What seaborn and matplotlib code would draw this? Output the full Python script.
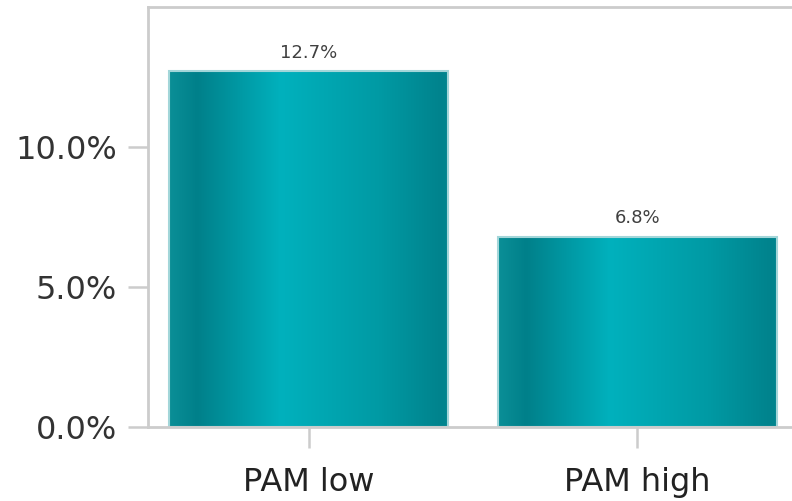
import numpy as np
import pandas as pd
import matplotlib
matplotlib.use("Agg")
import matplotlib.pyplot as plt
import seaborn as sns
from matplotlib.colors import LinearSegmentedColormap
from matplotlib.ticker import FuncFormatter

groups = ["PAM low", "PAM high"]
rates = [12.7, 6.8]

df = pd.DataFrame({"group": groups, "rate": rates})

sns.set_style("white")
plt.rcParams["font.family"] = ["DejaVu Sans"]

fig = plt.figure(figsize=(7.92, 5.01), dpi=100)
ax = fig.add_axes([0.1869, 0.1477, 0.8207, 0.8383])

sns.barplot(data=df, x="group", y="rate", order=groups, width=0.85,
            color="#00a0aa", edgecolor="#a3d6d9", linewidth=1.5, ax=ax)

# metallic teal gradient inside each bar
shine = LinearSegmentedColormap.from_list(
    "shine",
    [(0.0, "#0b8f97"), (0.1, "#00808a"), (0.4, "#00b1bd"),
     (0.75, "#009aa4"), (0.97, "#00838d"), (1.0, "#00868f")], N=512)
grad = np.linspace(0, 1, 512).reshape(1, -1)
for bar in ax.patches:
    x0, y0 = bar.get_x(), bar.get_y()
    w, h = bar.get_width(), bar.get_height()
    im = ax.imshow(grad, cmap=shine, aspect="auto", extent=[x0, x0 + w, y0, y0 + h],
                   zorder=bar.get_zorder() - 0.1, interpolation="antialiased")
    im.set_clip_path(bar)
    bar.set_facecolor("none")
    bar.set_zorder(bar.get_zorder() + 0.2)

ax.set_xlim(-0.49, 1.49)
ax.set_ylim(0, 15)
ax.set_yticks([0, 5, 10])
ax.yaxis.set_major_formatter(FuncFormatter(lambda v, p: f"{v:.1f}%"))
ax.set_xlabel("")
ax.set_ylabel("")

for c in ax.containers:
    ax.bar_label(c, fmt="{:.1f}%", padding=7, fontsize=13, color="#404040")

for side in ["left", "top", "bottom"]:
    ax.spines[side].set_color("#cccccc")
    ax.spines[side].set_linewidth(2)
ax.spines["right"].set_visible(False)

ax.tick_params(axis="y", length=14.5, width=1.8, color="#cccccc", pad=8,
               labelsize=23, labelcolor="#333333")
ax.tick_params(axis="x", length=15, width=1.8, color="#cccccc", pad=14,
               labelsize=23, labelcolor="#222222")
ax.tick_params(left=True, bottom=True)

plt.savefig("out.png", dpi=100)
